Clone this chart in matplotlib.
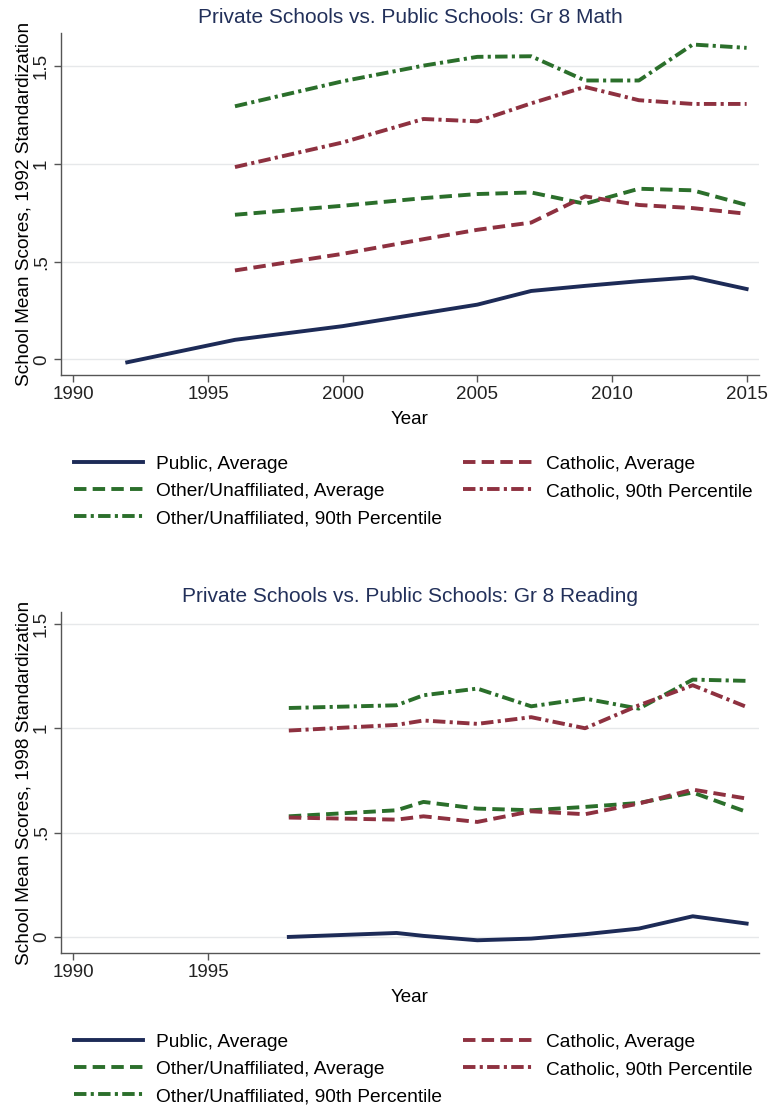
import matplotlib.pyplot as plt
from matplotlib.lines import Line2D

plt.rcParams["font.family"] = ["Liberation Sans", "DejaVu Sans"]

# Grade 8 math, NAEP years
math_years = [1992, 1996, 2000, 2003, 2005, 2007, 2009, 2011, 2013, 2015]
math_public_avg = [-0.015, 0.10, 0.17, 0.236, 0.28, 0.35, 0.376, 0.40, 0.42, 0.36]
math_years_priv = [1996, 2000, 2003, 2005, 2007, 2009, 2011, 2013, 2015]
math_catholic_avg = [0.455, 0.54, 0.615, 0.663, 0.70, 0.834, 0.79, 0.774, 0.745]
math_other_avg = [0.74, 0.786, 0.825, 0.846, 0.854, 0.796, 0.873, 0.865, 0.79]
math_catholic_p90 = [0.984, 1.11, 1.23, 1.218, 1.31, 1.394, 1.326, 1.307, 1.307]
math_other_p90 = [1.295, 1.423, 1.503, 1.548, 1.551, 1.427, 1.427, 1.611, 1.594]

# Grade 8 reading
read_years = [1998, 2002, 2003, 2005, 2007, 2009, 2011, 2013, 2015]
read_public_avg = [0.0, 0.019, 0.005, -0.016, -0.008, 0.013, 0.04, 0.099, 0.064]
read_catholic_avg = [0.572, 0.562, 0.578, 0.551, 0.602, 0.588, 0.639, 0.706, 0.663]
read_other_avg = [0.578, 0.607, 0.647, 0.615, 0.607, 0.623, 0.642, 0.692, 0.599]
read_catholic_p90 = [0.989, 1.016, 1.037, 1.021, 1.053, 1.0, 1.11, 1.206, 1.102]
read_other_p90 = [1.097, 1.11, 1.158, 1.19, 1.105, 1.142, 1.094, 1.233, 1.227]

y_ticks = [0, 0.5, 1, 1.5]
y_ticklabels = ["0", ".5", "1", "1.5"]

navy = "#1d2b57"
maroon = "#8e3140"
green = "#2b6f2b"
lw = 2.8
dash = (0, (3.2, 1.6))
dashdot = (0, (3.2, 1.1, 0.8, 1.1))

labels = ["Public, Average", "Other/Unaffiliated, Average",
          "Other/Unaffiliated, 90th Percentile", "Catholic, Average",
          "Catholic, 90th Percentile"]
styles = [(navy, "-"), (green, dash), (green, dashdot), (maroon, dash), (maroon, dashdot)]

fig = plt.figure(figsize=(7.7, 11.06), dpi=100)
W, H = 770, 1106


def add_panel(top_px, bottom_px, title, ylabel, xticks, xlim, ylim,
              pub_x, pub, priv_x, series):
    ax = fig.add_axes([61 / W, 1 - bottom_px / H, 698 / W, (bottom_px - top_px) / H])
    ax.plot(pub_x, pub, color=navy, lw=lw, solid_joinstyle="round", zorder=5)
    for (color, ls), vals in zip(styles[1:], series):
        ax.plot(priv_x, vals, color=color, lw=lw, linestyle=ls, zorder=4)
    ax.set_xlim(*xlim)
    ax.set_ylim(*ylim)
    ax.set_yticks(y_ticks)
    ax.set_yticklabels(y_ticklabels, rotation=90, va="center", fontsize=13.5)
    ax.set_xticks(xticks)
    ax.set_xticklabels([str(x) for x in xticks], fontsize=13.5)
    ax.grid(axis="y", color="#e6e8ea", lw=1.0)
    ax.set_axisbelow(True)
    for s in ["top", "right"]:
        ax.spines[s].set_visible(False)
    for s in ["left", "bottom"]:
        ax.spines[s].set_color("#555555")
        ax.spines[s].set_linewidth(1.0)
    ax.tick_params(colors="#555555", labelcolor="#222222", length=5, width=1.0, pad=3)
    ax.set_xlabel("Year", fontsize=13.5, labelpad=6)
    ax.set_ylabel(ylabel, fontsize=13.7, labelpad=0)
    ax.set_title(title, fontsize=15, color="#22305a", pad=7)
    return ax


add_panel(33, 375, "Private Schools vs. Public Schools: Gr 8 Math",
          "School Mean Scores, 1992 Standardization",
          [1990, 1995, 2000, 2005, 2010, 2015], (1989.54, 2015.46), (-0.08, 1.67),
          math_years, math_public_avg, math_years_priv,
          [math_other_avg, math_other_p90, math_catholic_avg, math_catholic_p90])

add_panel(612, 953, "Private Schools vs. Public Schools: Gr 8 Reading",
          "School Mean Scores, 1998 Standardization",
          [1990, 1995], (1989.54, 2015.46), (-0.077, 1.557),
          read_years, read_public_avg, read_years,
          [read_other_avg, read_other_p90, read_catholic_avg, read_catholic_p90])

handles = [Line2D([], [], color=c, lw=lw, linestyle=ls) for c, ls in styles]
for top_px in [448, 1026]:
    fig.legend(handles, labels, ncol=2, loc="upper left",
               bbox_to_anchor=(66 / W, 1 - top_px / H), frameon=False,
               fontsize=13.8, handlelength=3.6, handletextpad=0.7,
               columnspacing=1.1, labelspacing=0.5, borderaxespad=0)

fig.savefig("out.png", dpi=100, facecolor="white")
